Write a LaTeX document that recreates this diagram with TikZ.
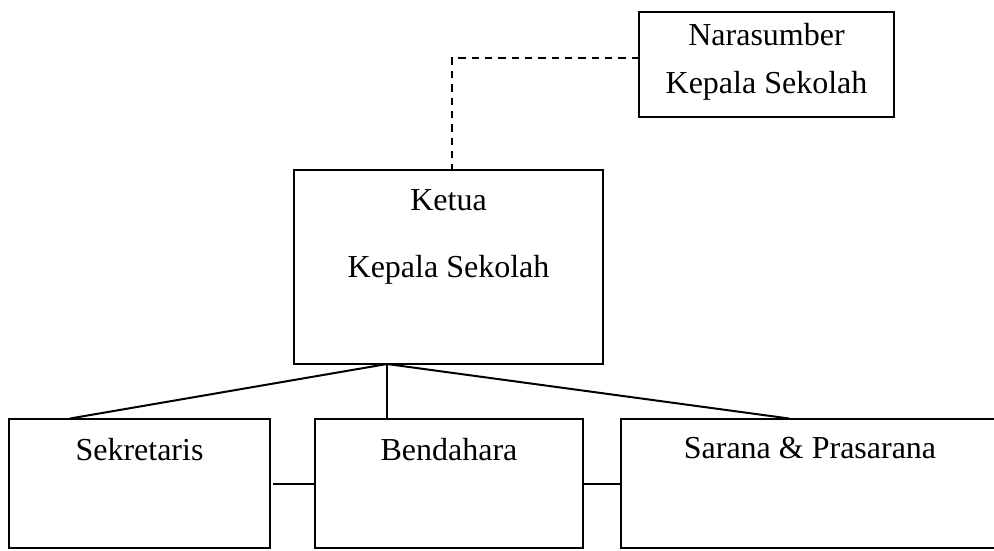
\documentclass[tikz,border=0pt]{standalone}
\usepackage{fontspec}
\setmainfont{Liberation Serif}
\begin{document}
\begin{tikzpicture}[x=0.75pt,y=-0.75pt,
  box/.style={draw,line width=1.5pt,inner sep=0pt,outer sep=0pt,rectangle},
  lbl/.style={font=\fontsize{24}{28}\selectfont,anchor=base,inner sep=0pt},
  conn/.style={line width=1.5pt},
  dashconn/.style={line width=1.5pt,dash pattern=on 5.5pt off 4.5pt}]
\clip (0,0) rectangle (994,550);
\useasboundingbox (0,0) rectangle (994,550);
% boxes
\node[box,minimum width=191.25pt,minimum height=78.75pt] (nara) at (766.5,64.5) {};
\node[box,minimum width=231.75pt,minimum height=145.5pt] (ketua) at (448.5,267) {};
\node[box,minimum width=195.75pt,minimum height=96.75pt] (sek) at (139.5,483.5) {};
\node[box,minimum width=201pt,minimum height=96.75pt] (bend) at (449,483.5) {};
\node[box,minimum width=283.5pt,minimum height=96.75pt] (sar) at (810,483.5) {};
% texts
\node[lbl] (t1) at (766.5,45) {Narasumber};
\node[lbl] (t2) at (766.5,93) {Kepala Sekolah};
\node[lbl] (t3) at (448.5,210) {Ketua};
\node[lbl] (t4) at (448.5,277) {Kepala Sekolah};
\node[lbl] (t5) at (139.5,460) {Sekretaris};
\node[lbl] (t6) at (449,460) {Bendahara};
\node[lbl] (t7) at (810,458) {Sarana \& Prasarana};
% connectors
\coordinate (dj) at (452,58);
\draw[dashconn] (nara.west |- dj) -- (dj) -- (dj |- ketua.north);
\coordinate (j) at (387,364);
\coordinate (sj) at (70,418.5);
\coordinate (bj) at (387,419);
\coordinate (pj) at (789,418.5);
\draw[conn] (j) -- (sj);
\draw[conn] (j) -- (bj);
\draw[conn] (j) -- (pj);
\draw[conn] ([xshift=2.25pt]sek.east) -- (bend.west);
\draw[conn] (bend.east) -- (sar.west);
\end{tikzpicture}
\end{document}
